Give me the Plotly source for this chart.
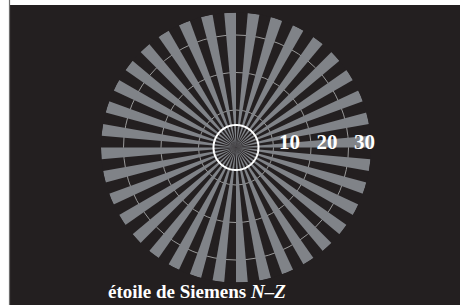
import plotly.graph_objects as go

# ---- data ----
spoke_angles = [2.5, 12.5, 22.5, 32.5, 42.5, 52.5, 62.5, 72.5, 82.5, 92.5,
                102.5, 112.5, 122.5, 132.5, 142.5, 152.5, 162.5, 172.5,
                182.5, 192.5, 202.5, 212.5, 222.5, 232.5, 242.5, 252.5,
                262.5, 272.5, 282.5, 292.5, 302.5, 312.5, 322.5, 332.5,
                342.5, 352.5]
spoke_lengths = [36, 36, 36, 36, 36, 36, 36, 36, 36, 36, 36, 36,
                 36, 36, 36, 36, 36, 36, 36, 36, 36, 36, 36, 36,
                 36, 36, 36, 36, 36, 36, 36, 36, 36, 36, 36, 36]
spoke_width_deg = 5
radial_range = [0, 36]
radial_ticks = [10, 20, 30]
radial_tick_labels = ["10", "20", "30"]
ring_radius = 6
ring_angles = list(range(0, 361, 3))
title_text = "étoile de Siemens <i>N–Z</i>"

# ---- geometry (pixels) ----
W, H = 460, 305
CX, CY, RAD = 236, 147.5, 135      # star centre and outer radius
LBL_DX, LBL_DY = 16, 6             # offset of the radial tick labels


def dom_x(c, r):
    return [(c - r) / W, (c + r) / W]


def dom_y(c, r):
    return [1 - (c + r) / H, 1 - (c - r) / H]


def px_x(x):
    return x / W


def px_y(y):
    return 1 - y / H


BG = "#231f20"
BAR = "#808388"
FONT = "Liberation Serif, Times New Roman, serif"

fig = go.Figure()
fig.add_trace(go.Barpolar(
    r=spoke_lengths, theta=spoke_angles, width=spoke_width_deg,
    marker=dict(color=BAR, line=dict(width=0)),
    hoverinfo="skip", showlegend=False, subplot="polar",
))
fig.add_trace(go.Scatterpolar(
    r=[ring_radius] * len(ring_angles), theta=ring_angles, mode="lines",
    line=dict(color="white", width=2), hoverinfo="skip", showlegend=False,
    subplot="polar",
))
# invisible carrier trace for the subplot that holds the radial tick labels
fig.add_trace(go.Scatterpolar(
    r=radial_ticks, theta=[0] * len(radial_ticks), mode="markers",
    marker=dict(opacity=0), hoverinfo="skip", showlegend=False,
    subplot="polar2",
))

hidden_angular = dict(showgrid=False, showline=False, showticklabels=False,
                      ticks="", direction="counterclockwise", rotation=0)

fig.update_layout(
    width=W, height=H,
    margin=dict(l=0, r=0, t=0, b=0, pad=0),
    paper_bgcolor=BG,
    showlegend=False,
    polar=dict(
        bgcolor=BG,
        domain=dict(x=dom_x(CX, RAD), y=dom_y(CY, RAD)),
        radialaxis=dict(
            range=radial_range, tickvals=radial_ticks, showticklabels=False,
            angle=0, showline=False, ticks="",
            showgrid=True, gridcolor="#9a9a9a", gridwidth=1,
        ),
        angularaxis=hidden_angular,
    ),
    polar2=dict(
        bgcolor="rgba(0,0,0,0)",
        domain=dict(x=dom_x(CX + LBL_DX, RAD), y=dom_y(CY + LBL_DY, RAD)),
        radialaxis=dict(
            range=radial_range, tickvals=radial_ticks,
            ticktext=radial_tick_labels,
            angle=0, side="counterclockwise", showline=False, ticks="",
            showgrid=False,
            tickfont=dict(family=FONT, size=21, color="white", weight="bold"),
            layer="above traces",
        ),
        angularaxis=hidden_angular,
    ),
    shapes=[
        dict(type="rect", xref="paper", yref="paper", layer="above",
             x0=px_x(0), x1=px_x(9), y0=px_y(H), y1=px_y(0),
             fillcolor="white", line=dict(width=0)),
        dict(type="rect", xref="paper", yref="paper", layer="above",
             x0=px_x(0), x1=px_x(W), y0=px_y(5), y1=px_y(0),
             fillcolor="white", line=dict(width=0)),
        dict(type="line", xref="paper", yref="paper", layer="above",
             x0=px_x(9.5), x1=px_x(9.5), y0=px_y(H), y1=px_y(0),
             line=dict(color="#6e6e6e", width=1.2)),
    ],
    annotations=[
        dict(text=title_text, xref="paper", yref="paper",
             x=px_x(106), y=px_y(304), xanchor="left", yanchor="bottom",
             showarrow=False,
             font=dict(family=FONT, size=19, color="white", weight="bold")),
    ],
)

fig.write_html(
    "out.html",
    config={"displayModeBar": False},
    post_script="document.body.style.margin='0';"
                "document.body.style.overflow='hidden';",
)
